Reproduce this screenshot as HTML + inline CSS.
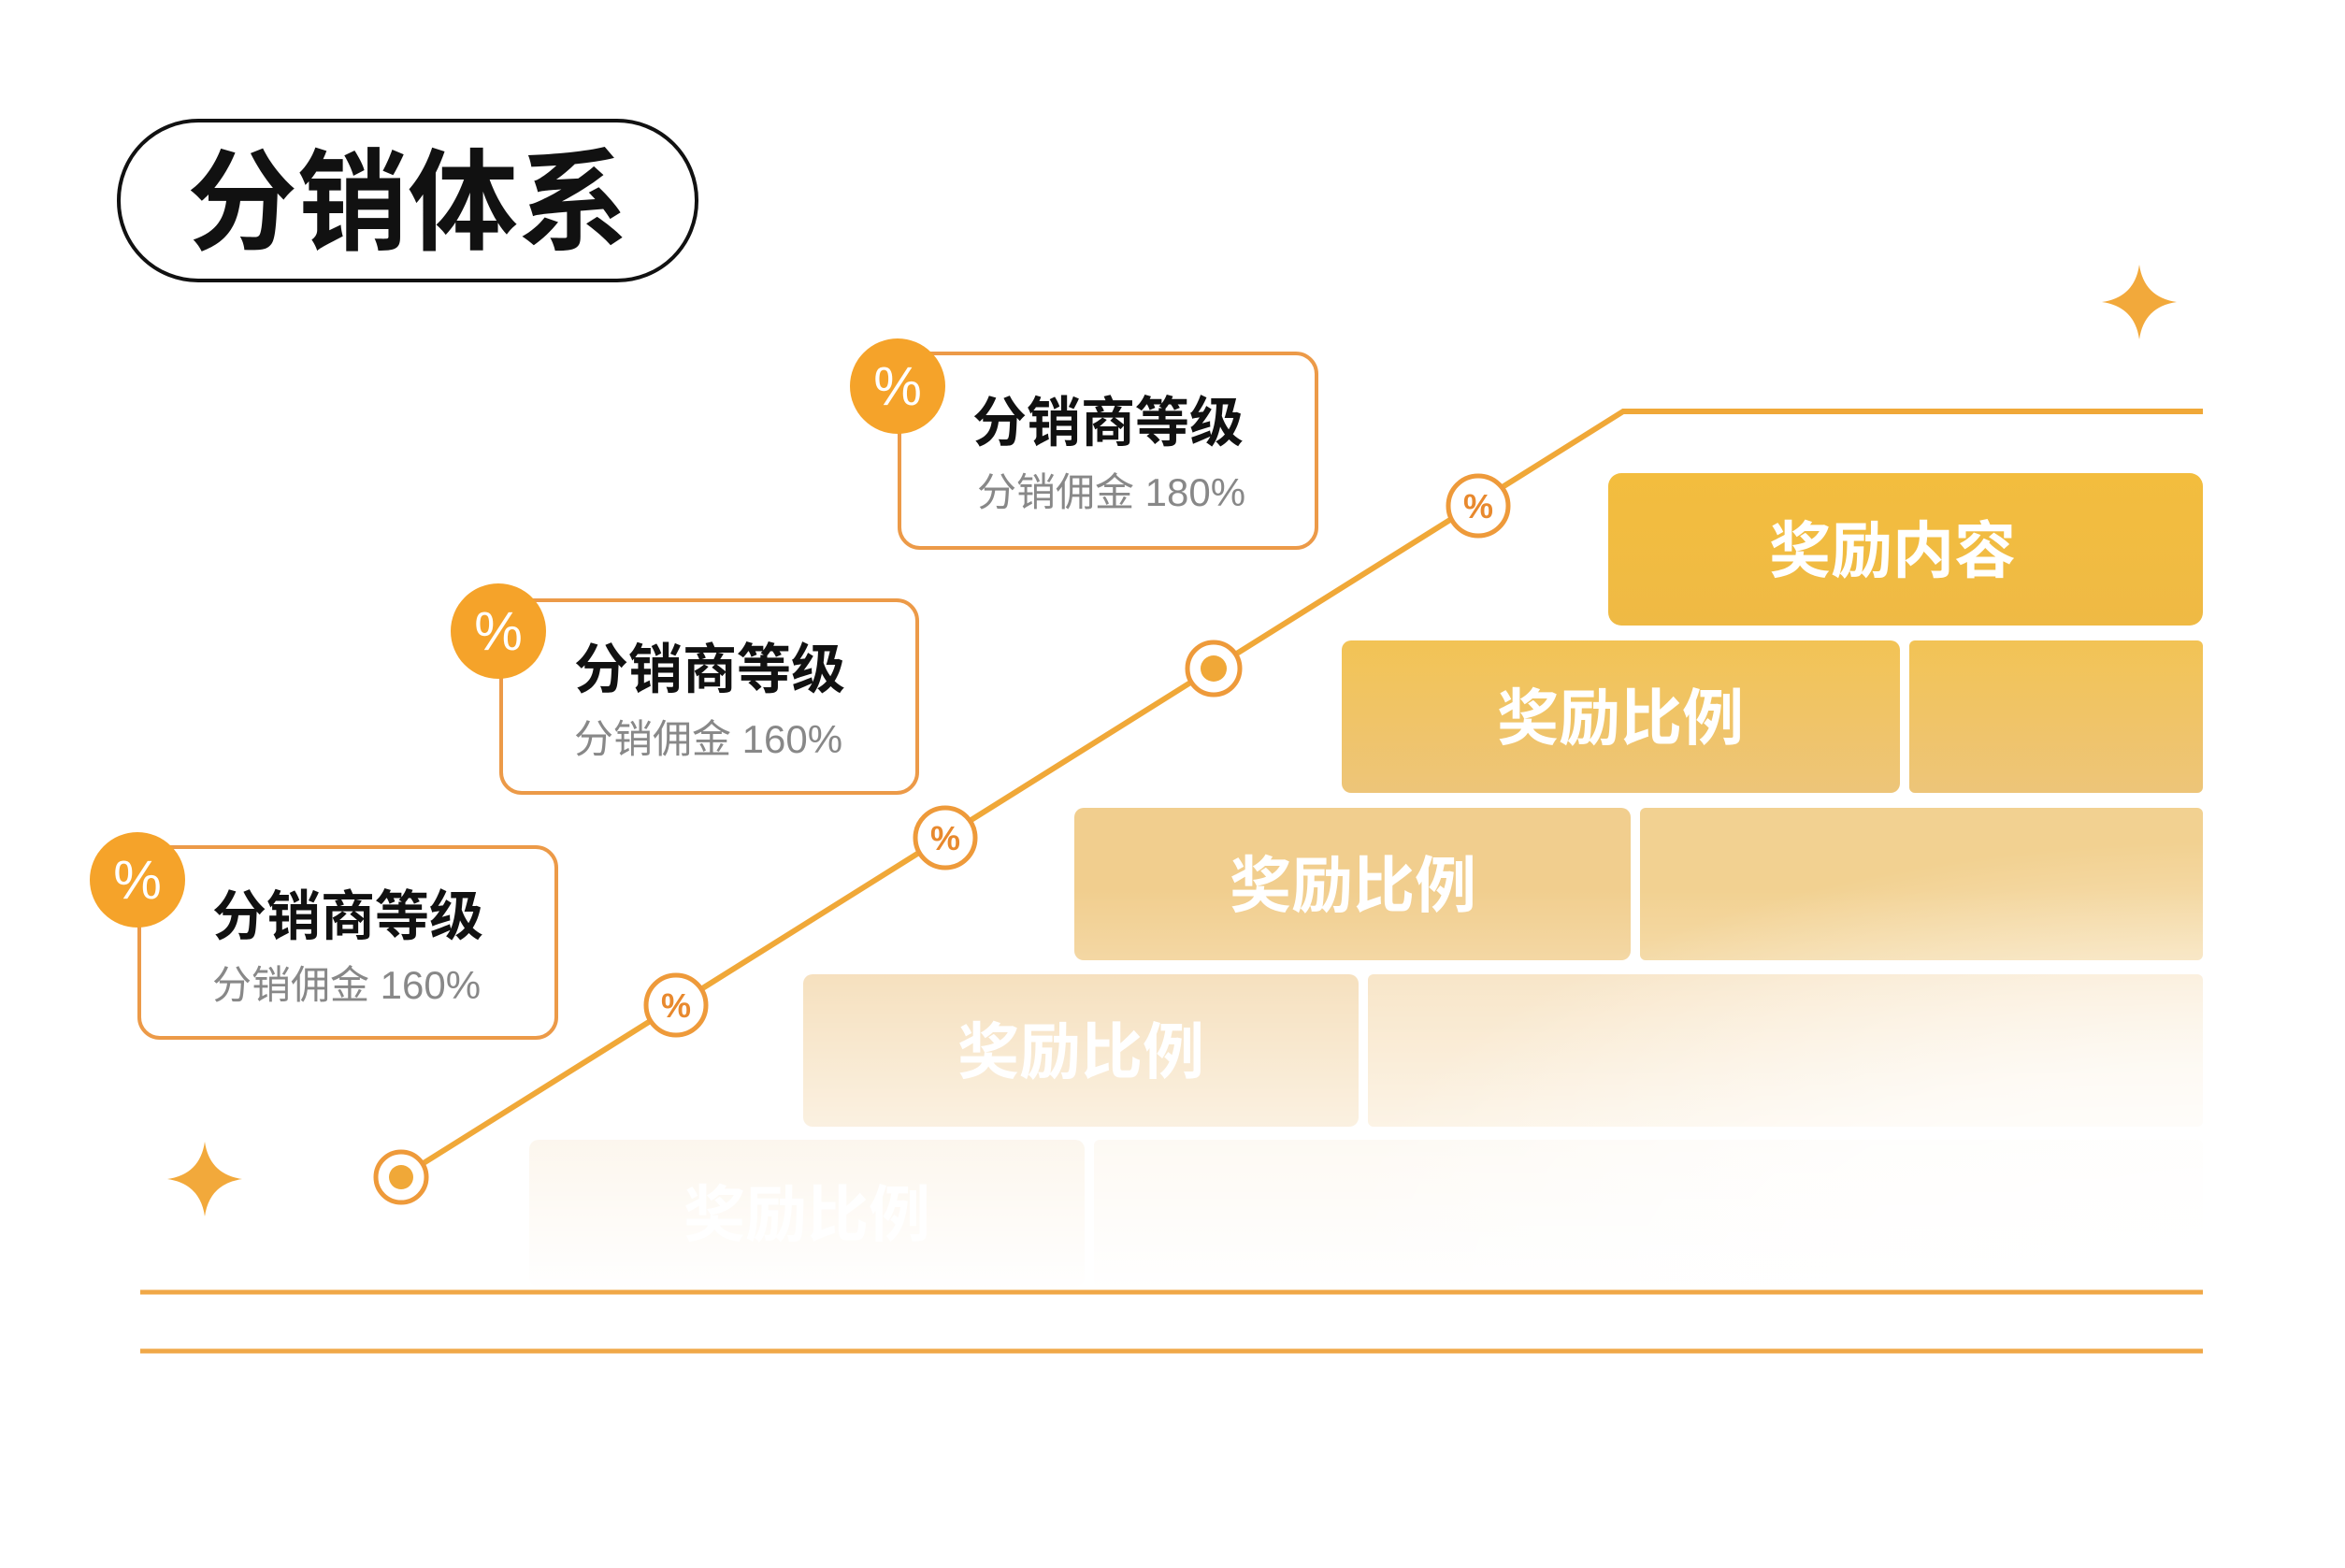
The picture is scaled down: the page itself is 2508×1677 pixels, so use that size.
<!DOCTYPE html>
<html><head><meta charset="utf-8"><style>
html,body{margin:0;padding:0;background:#fff;}
svg text{font-family:"Liberation Sans","Noto Sans CJK SC",sans-serif;}
</style></head><body>
<svg width="2508" height="1672" viewBox="0 0 2508 1672" xmlns="http://www.w3.org/2000/svg">
<defs>
<linearGradient id="gTop" x1="0" y1="0" x2="0" y2="1"><stop offset="0" stop-color="#f3bd3e"/><stop offset="1" stop-color="#efba45"/></linearGradient>
<linearGradient id="gB" x1="0" y1="0" x2="0" y2="1"><stop offset="0" stop-color="#f2c04c"/><stop offset="1" stop-color="#ecc272"/></linearGradient>
<linearGradient id="fadeV" x1="0" y1="0" x2="0" y2="1"><stop offset="0" stop-color="#fff" stop-opacity="0"/><stop offset="0.55" stop-color="#fff" stop-opacity="0.6"/><stop offset="1" stop-color="#fff" stop-opacity="1"/></linearGradient>
<radialGradient id="fadeR" cx="1" cy="1" r="1"><stop offset="0" stop-color="#fff" stop-opacity="1"/><stop offset="0.5" stop-color="#fff" stop-opacity="0.7"/><stop offset="1" stop-color="#fff" stop-opacity="0"/></radialGradient>
</defs>
<rect x="127" y="129" width="618" height="171" rx="85" fill="#fff" stroke="#111" stroke-width="4"/>
<text x="436" y="258" font-size="118" font-weight="bold" text-anchor="middle" fill="#111">分销体系</text>

<path d="M2288 283 Q2293 318 2328 323 Q2293 328 2288 363 Q2283 328 2248 323 Q2283 318 2288 283Z" fill="#f2a93b"/>
<path d="M219 1221 Q224 1256 259 1261 Q224 1266 219 1301 Q214 1266 179 1261 Q214 1256 219 1221Z" fill="#f2a93b"/>

<g>
<rect x="1720" y="506" width="636" height="163" rx="14" fill="url(#gTop)"/>
<text x="2024" y="612" font-size="66" font-weight="bold" text-anchor="middle" fill="#fff">奖励内容</text>

<rect x="1435" y="685" width="597" height="163" rx="10" fill="url(#gB)" opacity="0.95"/>
<rect x="2042" y="685" width="314" height="163" rx="6" fill="url(#gB)" opacity="0.95"/>
<text x="1733" y="791" font-size="66" font-weight="bold" text-anchor="middle" fill="#fff">奖励比例</text>

<rect x="1149" y="864" width="595" height="163" rx="10" fill="#efc982" opacity="0.9"/>
<rect x="1754" y="864" width="602" height="163" rx="6" fill="#f0c97e" opacity="0.85"/>
<text x="1447" y="970" font-size="66" font-weight="bold" text-anchor="middle" fill="#fff">奖励比例</text>

<rect x="859" y="1042" width="594" height="163" rx="10" fill="#f2d3a2" opacity="0.9"/>
<rect x="1463" y="1042" width="893" height="163" rx="6" fill="#f3d3a0" opacity="0.75"/>
<text x="1156" y="1148" font-size="66" font-weight="bold" text-anchor="middle" fill="#fff">奖励比例</text>

<rect x="566" y="1219" width="594" height="157" rx="10" fill="#f6e0c2" opacity="0.85"/>
<rect x="1170" y="1219" width="1186" height="157" rx="6" fill="#f7e3c6" opacity="0.6"/>
<text x="863" y="1322" font-size="66" font-weight="bold" text-anchor="middle" fill="#fff">奖励比例</text>
</g>
<rect x="540" y="950" width="1830" height="432" fill="url(#fadeV)"/>
<rect x="1400" y="900" width="970" height="482" fill="url(#fadeR)"/>

<line x1="150" y1="1382" x2="2356" y2="1382" stroke="#f0a848" stroke-width="5"/>
<line x1="150" y1="1445" x2="2356" y2="1445" stroke="#f0a848" stroke-width="5"/>

<polyline points="429,1259 1736,440 2356,440" fill="none" stroke="#f0a838" stroke-width="6"/>
<g stroke="#ee9a3a" stroke-width="5" fill="#fff">
<circle cx="429" cy="1259" r="27"/>
<circle cx="723" cy="1075" r="32"/>
<circle cx="1011" cy="896" r="32"/>
<circle cx="1298" cy="715" r="28"/>
<circle cx="1581" cy="541" r="32"/>
</g>
<circle cx="429" cy="1259" r="13" fill="#f0a838"/>
<circle cx="1298" cy="715" r="14" fill="#f0a838"/>
<g font-size="36" font-weight="bold" fill="#e8892e" text-anchor="middle">
<text x="723" y="1088">%</text><text x="1011" y="909">%</text><text x="1581" y="554">%</text>
</g>

<g fill="#fff" stroke="#ec9a48" stroke-width="4">
<rect x="962" y="378" width="446" height="208" rx="22"/>
<rect x="536" y="642" width="445" height="206" rx="22"/>
<rect x="149" y="906" width="446" height="204" rx="22"/>
</g>
<g fill="#f5a32a">
<circle cx="960" cy="413" r="51"/>
<circle cx="533" cy="675" r="51"/>
<circle cx="147" cy="941" r="51"/>
</g>
<g font-size="58" fill="#fff" text-anchor="middle">
<text x="960" y="433">%</text><text x="533" y="695">%</text><text x="147" y="961">%</text>
</g>
<g font-size="58" font-weight="bold" fill="#111">
<text x="1040" y="472">分销商等级</text>
<text x="614" y="736">分销商等级</text>
<text x="227" y="1000">分销商等级</text>
</g>
<g font-size="42" fill="#888">
<text x="1045" y="541">分销佣金 180%</text>
<text x="614" y="805">分销佣金 160%</text>
<text x="227" y="1068">分销佣金 160%</text>
</g>
</svg>
</body></html>
